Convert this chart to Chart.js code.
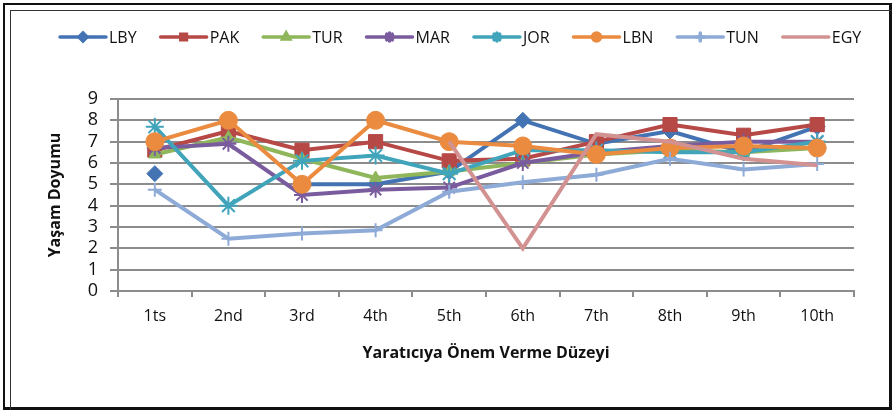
<!DOCTYPE html>
<html>
<head>
<meta charset="utf-8">
<script src="https://cdn.jsdelivr.net/npm/chart.js@4/dist/chart.umd.min.js"></script>
<style>
  html, body { margin: 0; padding: 0; background: #fff; }
  #wrap { position: relative; width: 894px; height: 411px; }
  #chart { position: absolute; left: 0; top: 0; }
  .frame { position: absolute; pointer-events: none; box-sizing: border-box; }
  #outer { left: 3px; top: 3px; width: 889px; height: 407px; border: 2px solid #111; border-right-width: 3px; border-bottom-width: 3px; }
  #inner { left: 10px; top: 10px; width: 882px; height: 400px; border-left: 1.5px solid #333; border-top: 1.5px solid #333; }
</style>
</head>
<body>
<div id="wrap">
  <canvas id="chart" width="894" height="411"></canvas>
  <div class="frame" id="outer"></div>
  <div class="frame" id="inner"></div>
</div>
<script>
// ── Data ─────────────────────────────────────────────
const levels = ["1ts", "2nd", "3rd", "4th", "5th", "6th", "7th", "8th", "9th", "10th"];
const yMin = 0, yMax = 9, yStep = 1;

const LBY = [5.5, null, 5.0, 5.0, 5.6, 8.0, 6.9, 7.5, 6.5, 7.7];
const PAK = [6.6, 7.5, 6.6, 7.0, 6.1, 6.2, 7.0, 7.8, 7.3, 7.8];
const TUR = [6.4, 7.2, 6.2, 5.3, 5.6, 6.0, 6.4, 6.6, 6.5, 6.7];
const MAR = [6.7, 6.9, 4.5, 4.75, 4.85, 6.0, 6.5, 6.8, 7.0, 7.0];
const JOR = [7.7, 4.0, 6.1, 6.35, 5.5, 6.6, 6.6, 6.5, 6.5, 7.0];
const LBN = [7.0, 8.0, 5.0, 8.0, 7.0, 6.8, 6.4, 6.7, 6.8, 6.7];
const TUN = [4.75, 2.45, 2.7, 2.85, 4.65, 5.1, 5.45, 6.2, 5.7, 5.95];
const EGY = [null, null, null, null, 7.0, 2.0, 7.35, 7.0, 6.2, 5.9];

const FONT = "'Open Sans', Lato, sans-serif";

const seriesDefs = [
  { label: "LBY", data: LBY, color: "#4373b3", style: "rectRot", r: 8 },
  { label: "PAK", data: PAK, color: "#b64846", style: "rect", r: 10 },
  { label: "TUR", data: TUR, color: "#8fb65a", style: "triangle", r: 7 },
  { label: "MAR", data: MAR, color: "#7a5c9e", style: "star", r: 8 },
  { label: "JOR", data: JOR, color: "#40a4bb", style: "star", r: 9 },
  { label: "LBN", data: LBN, color: "#ea8b40", style: "circle", r: 9 },
  { label: "TUN", data: TUN, color: "#8eabd8", style: "cross", r: 7 },
  { label: "EGY", data: EGY, color: "#d39292", style: "line", r: 0 }
];

const datasets = seriesDefs.map((s, i) => ({
  label: s.label,
  data: s.data,
  borderColor: s.color,
  backgroundColor: s.color,
  borderWidth: 4,
  pointStyle: s.style,
  pointRadius: s.r,
  pointBorderWidth: s.style === "star" || s.style === "cross" ? 2 : 1,
  pointBorderColor: s.color,
  pointBackgroundColor: s.color,
  tension: 0,
  spanGaps: false,
  order: seriesDefs.length - i   // later series drawn on top, like the original
}));

/* ── Legend drawn as line + small marker, like the original ── */
const lineLegend = {
  id: "lineLegend",
  afterDraw(chart) {
    const ctx = chart.ctx;
    const y = 37;
    let x = 60;
    ctx.save();
    ctx.font = "16px " + FONT;
    ctx.textBaseline = "middle";
    chart.data.datasets.forEach(ds => {
      ctx.strokeStyle = ds.borderColor;
      ctx.lineWidth = 3.5;
      ctx.lineCap = "round";
      ctx.beginPath();
      ctx.moveTo(x, y);
      ctx.lineTo(x + 46, y);
      ctx.stroke();
      if (ds.pointRadius > 0) {
        Chart.helpers.drawPoint(ctx, {
          pointStyle: ds.pointStyle, radius: 4, borderWidth: 1.5, rotation: 0
        }, x + 23, y);
        ctx.fillStyle = ds.borderColor;
        ctx.fill();
      }
      ctx.fillStyle = "#111";
      ctx.fillText(ds.label, x + 49, y + 1);
      x += 49 + ctx.measureText(ds.label).width + 24;
    });
    ctx.restore();
  }
};

new Chart(document.getElementById("chart"), {
  type: "line",
  data: { labels: levels, datasets },
  options: {
    responsive: false,
    animation: false,
    layout: { padding: { top: 99, left: 0, right: 40, bottom: 0 } },
    plugins: { legend: { display: false }, tooltip: { enabled: false } },
    scales: {
      x: {
        offset: true,
        afterFit: s => { s.height = 120; },
        grid: { offset: true, drawOnChartArea: false, drawTicks: true, tickLength: 6, color: "#8c8c8c", lineWidth: 2 },
        border: { color: "#8c8c8c", width: 2 },
        ticks: { color: "#111", font: { family: FONT, size: 16 }, padding: 10, maxRotation: 0 },
        title: {
          display: true, text: "Yaratıcıya Önem Verme Düzeyi", color: "#111",
          font: { family: FONT, size: 16, weight: "bold" }, padding: { top: 0, bottom: 48 }
        }
      },
      y: {
        min: yMin, max: yMax,
        afterFit: s => { s.width = 118; },
        grid: { drawTicks: true, tickLength: 8, color: "#8c8c8c", lineWidth: 2 },
        border: { color: "#8c8c8c", width: 2 },
        ticks: { stepSize: yStep, autoSkip: false, color: "#111", font: { family: FONT, size: 18 }, padding: 12 },
        title: {
          display: true, text: "Yaşam Doyumu", color: "#111",
          font: { family: FONT, size: 16, weight: "bold" }, padding: { top: 46, bottom: 0 }
        }
      }
    }
  },
  plugins: [lineLegend]
});
</script>
</body>
</html>
